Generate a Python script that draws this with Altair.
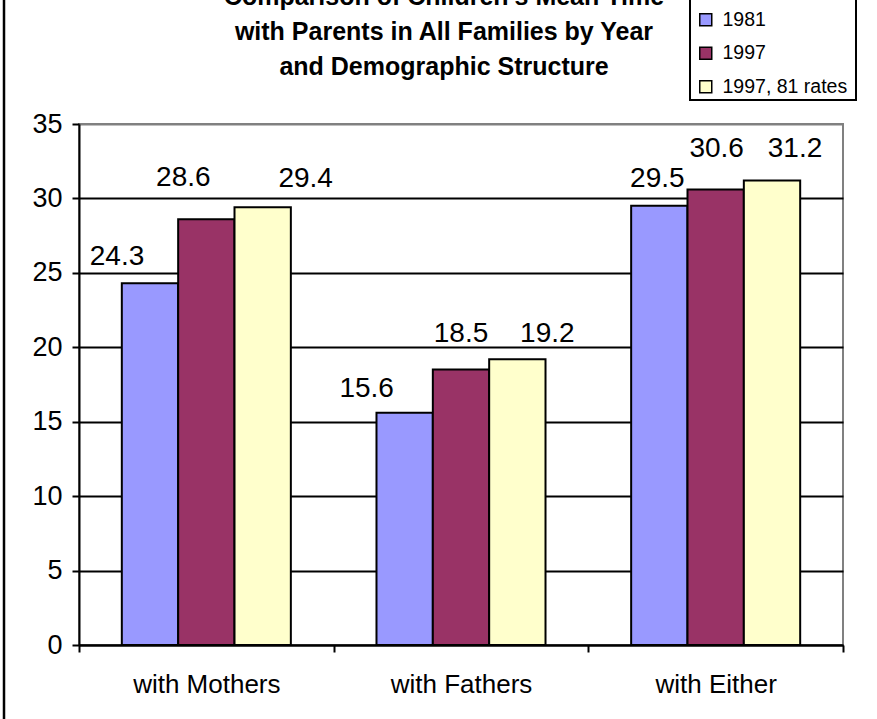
import altair as alt
import pandas as pd

# Chart data
categories = ["with Mothers", "with Fathers", "with Either"]
series = ["1981", "1997", "1997, 81 rates"]
values_1981 = [24.3, 15.6, 29.5]
values_1997 = [28.6, 18.5, 30.6]
values_1997_81_rates = [29.4, 19.2, 31.2]

title_lines = [
    "Comparison of Children's Mean Time",
    "with Parents in All Families by Year",
    "and Demographic Structure",
]

# Styling
colors = ["#9999FF", "#993366", "#FFFFCC"]
FONT = "Liberation Sans"

# Hand-placed value labels: (dx, gap above bar top in px), one per bar,
# in the same order as the rows built below.
label_nudges = [
    (-33, 18), (-23, 33), (43, 20),
    (-38, 16), (0, 28), (30, 17),
    (-2, 19), (1, 32), (23, 24),
]

rows = []
for i, cat in enumerate(categories):
    for s, vals in zip(series, [values_1981, values_1997, values_1997_81_rates]):
        rows.append({"group": cat, "series": s, "value": vals[i]})
df = pd.DataFrame(rows)

x_enc = alt.X(
    "group:N",
    sort=categories,
    title=None,
    scale=alt.Scale(paddingInner=0, paddingOuter=0),
    axis=alt.Axis(
        labelAngle=0,
        labelFontSize=26,
        labelFont=FONT,
        labelColor="black",
        labelPadding=19,
        tickBand="extent",
        tickSize=7,
        tickWidth=2,
        tickColor="black",
        domainColor="black",
        domainWidth=2,
        grid=False,
    ),
)
xo_enc = alt.XOffset(
    "series:N", sort=series, scale=alt.Scale(paddingInner=0, paddingOuter=0.76)
)
y_enc = alt.Y(
    "value:Q",
    title=None,
    scale=alt.Scale(domain=[0, 35], nice=False, zero=True),
    axis=alt.Axis(
        values=[0, 5, 10, 15, 20, 25, 30, 35],
        labelFontSize=27,
        labelFont=FONT,
        labelColor="black",
        labelPadding=10,
        tickSize=7,
        tickWidth=2,
        tickColor="black",
        domainColor="black",
        domainWidth=2,
        grid=True,
        gridWidth=2,
        gridColor=alt.condition("datum.value == 35", alt.value("#808080"), alt.value("black")),
    ),
)

anchor = pd.DataFrame({"k": [0]})

# Framed box behind the legend entries
legend_box = (
    alt.Chart(anchor)
    .mark_rect(fill="white", stroke="black", strokeWidth=2)
    .encode(
        x=alt.value(611), x2=alt.value(777),
        y=alt.value(-135), y2=alt.value(-24),
    )
)

bars = (
    alt.Chart(df)
    .mark_bar(stroke="black", strokeWidth=2)
    .encode(
        x=x_enc,
        xOffset=xo_enc,
        y=y_enc,
        color=alt.Color(
            "series:N",
            sort=series,
            scale=alt.Scale(domain=series, range=colors),
            legend=alt.Legend(
                title=None,
                orient="none",
                legendX=611,
                legendY=-120,
                direction="vertical",
                symbolType="square",
                symbolSize=144,
                symbolStrokeColor="black",
                symbolStrokeWidth=1.5,
                symbolOpacity=1,
                labelFontSize=19.5,
                labelFont=FONT,
                labelColor="black",
                labelOffset=7,
                rowPadding=12.5,
                padding=6,
            ),
        ),
    )
)

labels = []
for row, (ndx, gap) in zip(rows, label_nudges):
    labels.append(
        alt.Chart(df)
        .transform_filter(
            f"datum.group == '{row['group']}' && datum.series == '{row['series']}'"
        )
        .mark_text(
            font=FONT,
            fontSize=28,
            color="black",
            align="center",
            baseline="alphabetic",
            dx=ndx,
            dy=-gap,
        )
        .encode(
            x=x_enc,
            xOffset=xo_enc,
            y=y_enc,
            text=alt.Text("value:Q", format=".1f"),
        )
    )

title = (
    alt.Chart(anchor)
    .mark_text(
        text=title_lines,
        font=FONT,
        fontSize=25,
        fontWeight="bold",
        lineHeight=35,
        align="center",
        baseline="alphabetic",
        color="black",
    )
    .encode(x=alt.value(444 - 79), y=alt.value(5 - 124))
)

# Left edge of the outer frame
frame = (
    alt.Chart(anchor)
    .mark_rule(color="black", strokeWidth=2.5)
    .encode(x=alt.value(-75), y=alt.value(-130), y2=alt.value(600))
)

chart = (
    alt.layer(legend_box, bars, *labels, title, frame)
    .properties(
        width=764,
        height=521,
        autosize=alt.AutoSizeParams(type="none"),
        padding={"left": 79, "top": 124, "right": 34, "bottom": 74},
        background="white",
    )
    .configure_view(stroke="#808080", strokeWidth=2)
)

chart.save("out.html", embed_options={"renderer": "svg", "actions": False})
